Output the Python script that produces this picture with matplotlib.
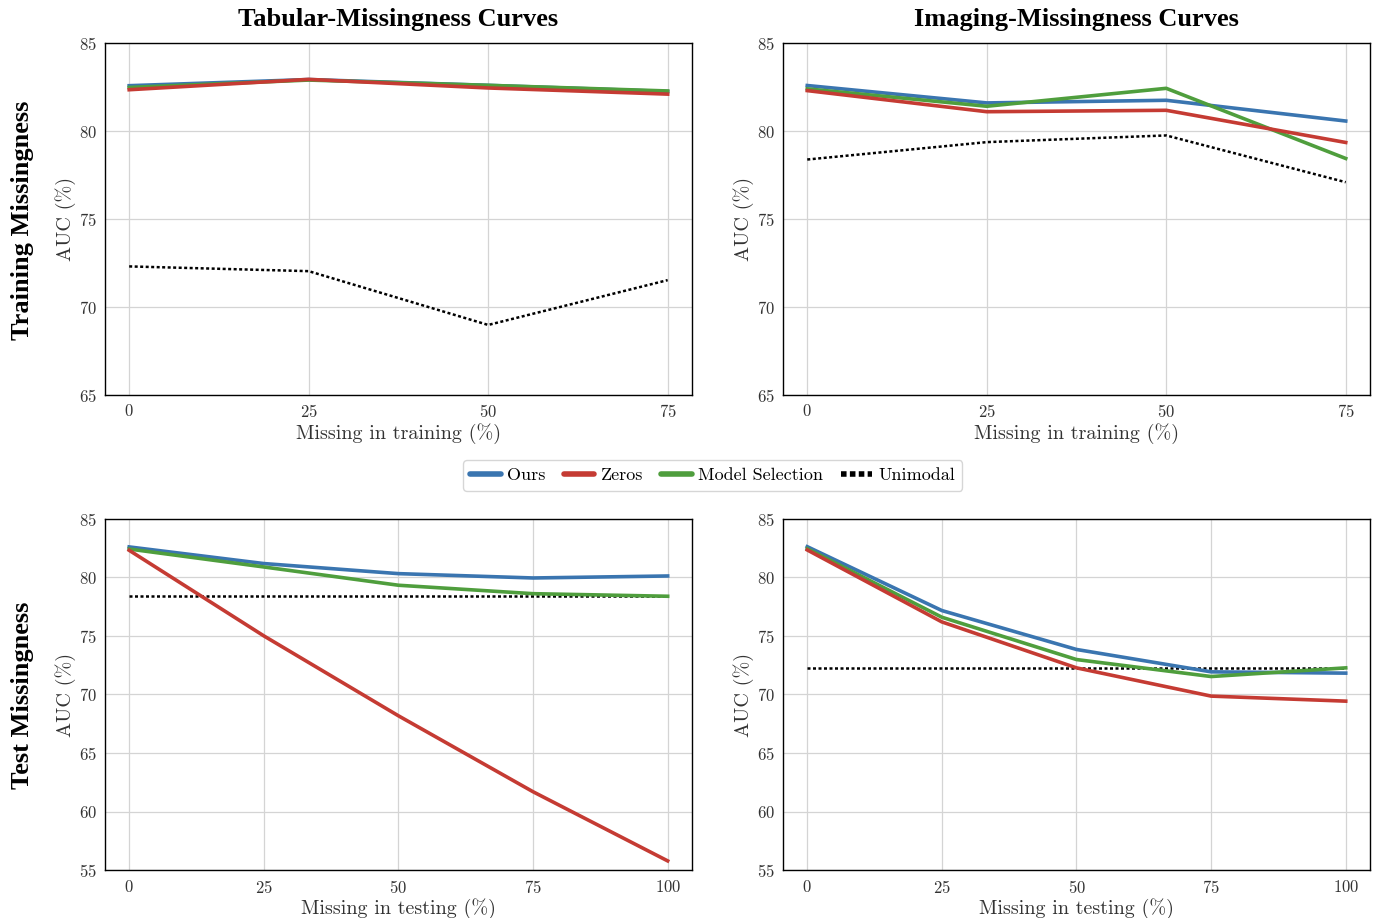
import matplotlib
matplotlib.use("Agg")
import matplotlib.pyplot as plt
from matplotlib.lines import Line2D

# training-missingness x values and test-missingness x values
train_pct = [0, 25, 50, 75]
test_pct = [0, 25, 50, 75, 100]

# Tabular missingness, varied in training
tab_train_ours = [82.58, 82.93, 82.6, 82.25]
tab_train_zeros = [82.35, 82.94, 82.45, 82.1]
tab_train_modsel = [82.48, 82.9, 82.6, 82.28]
tab_train_uni = [72.3, 72.03, 68.97, 71.52]

# Imaging missingness, varied in training
img_train_ours = [82.59, 81.6, 81.75, 80.57]
img_train_zeros = [82.3, 81.1, 81.18, 79.35]
img_train_modsel = [82.4, 81.41, 82.43, 78.44]
img_train_uni = [78.38, 79.37, 79.75, 77.09]

# Tabular missingness, varied in testing
tab_test_ours = [82.59, 81.17, 80.31, 79.94, 80.11]
tab_test_zeros = [82.3, 75.0, 68.18, 61.7, 55.8]
tab_test_modsel = [82.41, 80.88, 79.32, 78.6, 78.38]
tab_test_uni = [78.38, 78.38, 78.38, 78.38, 78.38]

# Imaging missingness, varied in testing
img_test_ours = [82.61, 77.16, 73.84, 71.93, 71.82]
img_test_zeros = [82.33, 76.19, 72.27, 69.86, 69.43]
img_test_modsel = [82.44, 76.59, 72.98, 71.53, 72.27]
img_test_uni = [72.27, 72.27, 72.27, 72.27, 72.27]

plt.rcParams['font.family'] = 'cmr10'
plt.rcParams['axes.formatter.use_mathtext'] = True
plt.rcParams['mathtext.fontset'] = 'cm'

c_ours = '#3a75b0'
c_zeros = '#c53b33'
c_modsel = '#4f9e3d'

fig = plt.figure(figsize=(13.81, 9.18), dpi=100)
lefts = [0.076, 0.567]
w = 0.425
bottoms = [0.570, 0.052]
h = 0.383

panels = [
    (train_pct, tab_train_ours, tab_train_zeros, tab_train_modsel, tab_train_uni, (65, 85), 'Missing in training (%)'),
    (train_pct, img_train_ours, img_train_zeros, img_train_modsel, img_train_uni, (65, 85), 'Missing in training (%)'),
    (test_pct, tab_test_ours, tab_test_zeros, tab_test_modsel, tab_test_uni, (55, 85), 'Missing in testing (%)'),
    (test_pct, img_test_ours, img_test_zeros, img_test_modsel, img_test_uni, (55, 85), 'Missing in testing (%)'),
]

axes = []
for i, (x, ours, zeros, modsel, uni, ylim, xlabel) in enumerate(panels):
    ax = fig.add_axes([lefts[i % 2], bottoms[i // 2], w, h])
    ax.plot(x, uni, color='black', lw=1.8, ls=(0, (1.2, 1.0)), zorder=3)
    ax.plot(x, ours, color=c_ours, lw=2.6, zorder=4)
    ax.plot(x, modsel, color=c_modsel, lw=2.6, zorder=5)
    ax.plot(x, zeros, color=c_zeros, lw=2.6, zorder=6)
    ax.set_ylim(*ylim)
    ax.set_yticks(range(ylim[0], ylim[1] + 1, 5))
    ax.set_xticks(x)
    ax.margins(x=0.045)
    ax.grid(True, color='#d4d4d4', lw=0.9)
    ax.set_axisbelow(True)
    ax.tick_params(length=0, labelsize=12, labelcolor='#333333', pad=6)
    for s in ax.spines.values():
        s.set_color('black')
        s.set_linewidth(1.0)
    ax.set_xlabel(xlabel, fontsize=14.5, color='#333333', labelpad=2)
    ax.set_ylabel('AUC (%)', fontsize=14.5, color='#333333', labelpad=2)
    axes.append(ax)

title_font = dict(family='Liberation Serif', weight='bold', fontsize=19)
axes[0].set_title('Tabular-Missingness Curves', pad=12, **title_font)
axes[1].set_title('Imaging-Missingness Curves', pad=12, **title_font)
fig.text(0.016, 0.76, 'Training Missingness', rotation=90, ha='center', va='center', **title_font)
fig.text(0.016, 0.243, 'Test Missingness', rotation=90, ha='center', va='center', **title_font)

handles = [
    Line2D([], [], color=c_ours, lw=4, solid_capstyle='round'),
    Line2D([], [], color=c_zeros, lw=4, solid_capstyle='round'),
    Line2D([], [], color=c_modsel, lw=4, solid_capstyle='round'),
    Line2D([], [], color='black', lw=4, ls=(0, (1.0, 0.6))),
]
leg = fig.legend(handles, ['Ours', 'Zeros', 'Model Selection', 'Unimodal'],
                 loc='center', bbox_to_anchor=(0.516, 0.482), ncol=4, fontsize=13,
                 frameon=True, fancybox=True, handlelength=1.7, handletextpad=0.35,
                 columnspacing=1.0, borderpad=0.4)
leg.get_frame().set_edgecolor('#cccccc')

fig.savefig('out.png', dpi=100)
